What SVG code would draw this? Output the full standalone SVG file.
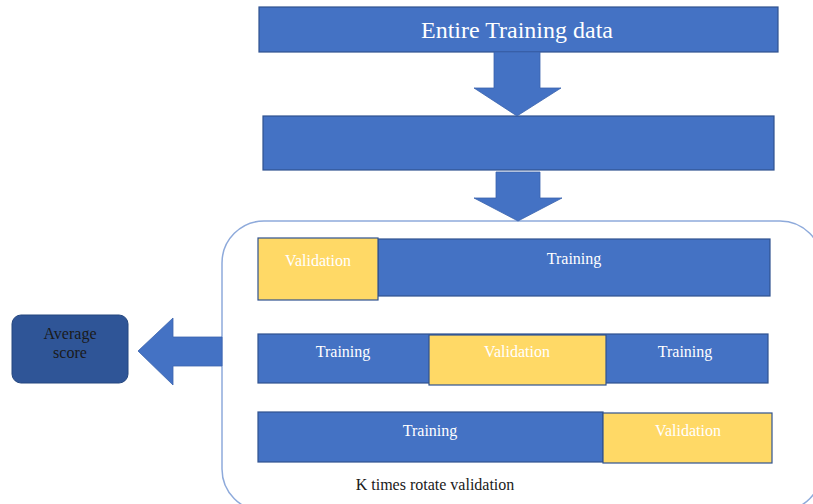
<svg xmlns="http://www.w3.org/2000/svg" width="813" height="504" viewBox="0 0 813 504">
  <style>
    .blue { fill: #4472c4; stroke: #2f528f; stroke-width: 1.2; }
    .yellow { fill: #ffd966; stroke: #2f528f; stroke-width: 1.2; }
    .arrow { fill: #4472c4; stroke: #3a63ad; stroke-width: 0.8; }
    .lbl { font-family: "Liberation Serif", "Times New Roman", serif; font-size: 16px; fill: #ffffff; text-anchor: middle; }
    .dark { font-family: "Liberation Serif", "Times New Roman", serif; font-size: 16px; fill: #1a1a1a; text-anchor: middle; }
  </style>

  <!-- top stage: whole data set -->
  <g id="entire-data">
    <rect class="blue" x="259" y="7" width="519" height="45"/>
    <text class="lbl" x="517" y="38" style="font-size:24px">Entire Training data</text>
  </g>

  <!-- second stage: split bar -->
  <g id="split">
    <rect class="blue" x="263" y="116" width="511" height="54"/>
  </g>

  <!-- rounded container holding the K folds -->
  <g id="folds">
    <rect x="222" y="221" width="600" height="290" rx="42" ry="42" fill="none" stroke="#8eaadb" stroke-width="1.5"/>

    <g id="fold-1">
      <rect class="blue" x="378" y="239" width="392" height="57"/>
      <rect class="yellow" x="258" y="238" width="120" height="62"/>
      <text class="lbl" x="318" y="266">Validation</text>
      <text class="lbl" x="574" y="264">Training</text>
    </g>

    <g id="fold-2">
      <rect class="blue" x="258" y="334" width="510" height="49"/>
      <rect class="yellow" x="429" y="335" width="177" height="50"/>
      <text class="lbl" x="343" y="357">Training</text>
      <text class="lbl" x="517" y="357">Validation</text>
      <text class="lbl" x="685" y="357">Training</text>
    </g>

    <g id="fold-3">
      <rect class="blue" x="258" y="412" width="345" height="50"/>
      <rect class="yellow" x="603" y="413" width="169" height="50"/>
      <text class="lbl" x="430" y="436">Training</text>
      <text class="lbl" x="688" y="436">Validation</text>
    </g>

    <text class="dark" x="435" y="490">K times rotate validation</text>
  </g>

  <!-- result node -->
  <g id="average-score">
    <rect x="12" y="315" width="116" height="68" rx="9" ry="9" fill="#2f5597" stroke="#24467f" stroke-width="1"/>
    <text class="dark" x="70" y="339">Average</text>
    <text class="dark" x="70" y="358">score</text>
  </g>

  <!-- block arrows between stages -->
  <g id="connectors">
    <polygon class="arrow" points="494,52 540,52 540,88 561,88 517,116 474,88 494,88"/>
    <polygon class="arrow" points="496,172 540,172 540,198 562,198 518,221 474,198 496,198"/>
    <polygon class="arrow" points="222,337 173,337 173,318 138,351 173,385 173,366 222,366"/>
  </g>
</svg>
